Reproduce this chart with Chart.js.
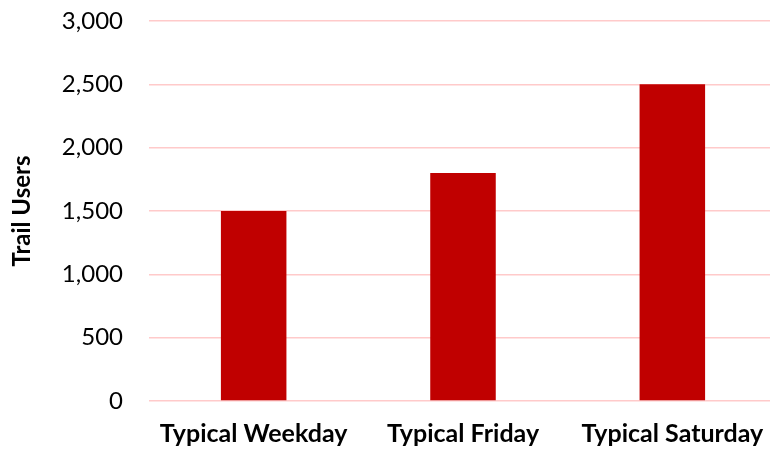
<!DOCTYPE html>
<html>
<head>
<meta charset="utf-8">
<script src="https://cdn.jsdelivr.net/npm/chart.js@4"></script>
<style>
  html, body { margin: 0; padding: 0; background: #fff; overflow: hidden; }
  #wrap { width: 777px; height: 450px; }
</style>
</head>
<body>
<div id="wrap"><canvas id="chart" width="777" height="450"></canvas></div>
<script>
// Daily trail counts by day type
const categories = ['Typical Weekday', 'Typical Friday', 'Typical Saturday'];
const trailUsers = [1500, 1800, 2500];
const yTicks = [0, 500, 1000, 1500, 2000, 2500, 3000];

const FONT = 'Lato, "Open Sans", "Liberation Sans", sans-serif';

new Chart(document.getElementById('chart'), {
  type: 'bar',
  data: {
    labels: categories,
    datasets: [{
      label: 'Trail Users',
      data: trailUsers,
      backgroundColor: '#C00000',
      borderWidth: 0,
      categoryPercentage: 1,
      barPercentage: 0.313
    }]
  },
  options: {
    responsive: false,
    animation: false,
    layout: { padding: { top: 21, right: 0, bottom: 0, left: 0 } },
    plugins: { legend: { display: false }, tooltip: { enabled: false } },
    scales: {
      x: {
        grid: { display: false, drawTicks: false },
        border: { display: false },
        ticks: {
          color: '#000',
          padding: 18,
          maxRotation: 0,
          font: { family: FONT, size: 25, weight: 'bold' }
        },
        afterFit: s => { s.height = 49; s.paddingLeft = 0; s.paddingRight = 0; }
      },
      y: {
        min: 0,
        max: 3000,
        afterBuildTicks: s => { s.ticks = yTicks.map(v => ({ value: v })); },
        grid: { color: '#FFCACA', lineWidth: 1.6, drawTicks: false },
        border: { display: false },
        ticks: {
          color: '#000',
          padding: 26,
          font: { family: FONT, size: 24 },
          callback: v => v.toLocaleString('en-US')
        },
        title: {
          display: true,
          text: 'Trail Users',
          color: '#000',
          padding: { top: 8, bottom: 0 },
          font: { family: FONT, size: 24, weight: 'bold' }
        },
        afterFit: s => { s.width = 149; s.paddingTop = 0; s.paddingBottom = 0; }
      }
    }
  }
});
</script>
</body>
</html>
